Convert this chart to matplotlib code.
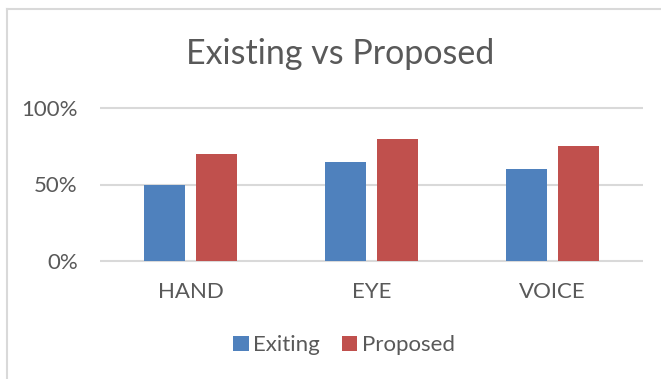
import matplotlib
matplotlib.use("Agg")
import matplotlib.pyplot as plt
from matplotlib.lines import Line2D
import numpy as np

# Data
categories = ["HAND", "EYE", "VOICE"]
existing = [0.50, 0.65, 0.60]
proposed = [0.70, 0.80, 0.75]
series_names = ["Exiting", "Proposed"]
yticks = [0.0, 0.5, 1.0]
ytick_labels = ["0%", "50%", "100%"]

plt.rcParams['font.family'] = ['Lato', 'DejaVu Sans']
text_color = "#595959"
grid_color = "#D9D9D9"
blue = "#4F81BD"
red = "#C0504D"

W, H = 661, 379
fig = plt.figure(figsize=(W / 100, H / 100), dpi=100)

# chart border (only top and left visible, chart is cropped)
fig.add_artist(Line2D([7 / W, 1], [1 - 9 / H, 1 - 9 / H], color=grid_color, lw=1.5))
fig.add_artist(Line2D([7 / W, 7 / W], [0, 1 - 9 / H], color=grid_color, lw=1.5))

# plot area in pixels: x 100..643, y(100%)=108, y(0%)=261
pad = 0.01
px_per_unit = 261 - 108
left, right = 100, 643
top = 108 - pad * px_per_unit
bottom = 261 + pad * px_per_unit
ax = fig.add_axes([left / W, 1 - bottom / H, (right - left) / W, (bottom - top) / H])

x = np.arange(len(categories))
width = 0.2265
offset = 0.141
ax.bar(x - offset, existing, width, color=blue, label=series_names[0], zorder=3)
ax.bar(x + offset, proposed, width, color=red, label=series_names[1], zorder=3)

ax.set_xlim(-0.5, len(categories) - 0.5)
ax.set_ylim(-pad, 1 + pad)
ax.set_yticks(yticks)
ax.set_yticklabels(ytick_labels)
ax.set_xticks(x)
ax.set_xticklabels(categories)
ax.tick_params(axis="y", length=0, pad=16, labelsize=16, labelcolor=text_color)
ax.tick_params(axis="x", length=0, pad=14, labelsize=16, labelcolor=text_color)
ax.yaxis.grid(True, color=grid_color, lw=1.5, zorder=0)
for s in ax.spines.values():
    s.set_visible(False)

fig.text(340 / W, 1 - 54 / H, "Existing vs Proposed", ha="center", va="center",
         fontsize=24.5, color=text_color)

fig.legend(loc="center", bbox_to_anchor=(344 / W, 1 - 345 / H), ncol=2, frameon=False,
           fontsize=16, labelcolor=text_color, handlelength=0.68, handleheight=0.68,
           handletextpad=0.2, columnspacing=1.0)

fig.savefig("out.png", dpi=100)
